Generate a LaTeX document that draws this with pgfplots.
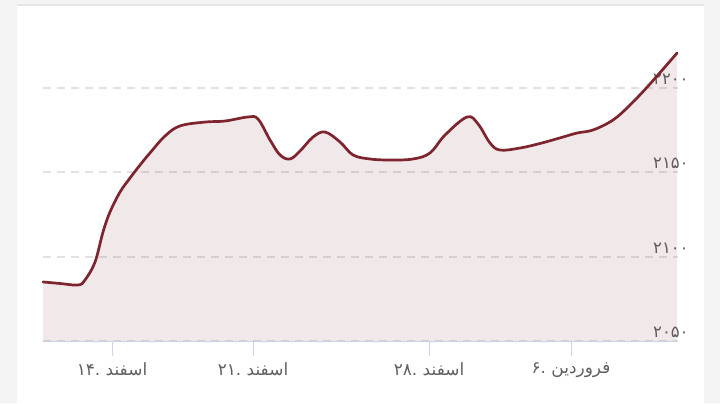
\documentclass[border=0pt]{standalone}
\usepackage{pgfplots}
\pgfplotsset{compat=1.18}
\usepackage{fontspec}
\setmainfont{DejaVu Sans}
\newfontfamily\fa[Script=Arabic]{DejaVu Sans}
\TeXXeTstate=1
\definecolor{lc}{RGB}{126,36,46}
\definecolor{gridc}{RGB}{226,226,226}
\definecolor{axc}{RGB}{204,214,235}
\definecolor{labc}{RGB}{96,96,96}
\definecolor{bandc}{RGB}{244,244,244}
\definecolor{topc}{RGB}{230,230,230}
\begin{document}
\begin{tikzpicture}[x=1bp,y=1bp]
\useasboundingbox (0,0) rectangle (720,403);
\fill[bandc] (0,0) rectangle (720,403);
\fill[white] (17,0) rectangle (704,396.5);
\fill[topc] (17,396.5) rectangle (704,398.5);
\begin{axis}[
  at={(43bp,62bp)}, anchor=origin,
  scale only axis, width=635bp, height=320.5bp,
  xmin=43, xmax=678, ymin=2050, ymax=2240,
  axis x line=bottom, axis y line*=right,
  x axis line style={draw=axc, line width=1bp, -},
  y axis line style={draw=none, -},
  xtick={112,253,429,571},
  xticklabels={%
    {\beginR اسفند \mbox{.}\mbox{۱۴}\endR},
    {\beginR اسفند \mbox{.}\mbox{۲۱}\endR},
    {\beginR اسفند \mbox{.}\mbox{۲۸}\endR},
    {\beginR فروردین \mbox{.}\mbox{۶}\endR}},
  x tick style={draw=axc, line width=1bp},
  tick align=outside, major tick length=15bp,
  xticklabel style={font=\fa\fontsize{17}{19}\selectfont, text=labc, yshift=-3bp},
  ytick={2050,2100,2150,2200},
  yticklabels={{۲۰۵۰},{۲۱۰۰},{۲۱۵۰},{۲۲۰۰}},
  y tick style={draw=none},
  yticklabel style={font=\fa\fontsize{16.5}{18}\selectfont, text=labc, anchor=south east, xshift=-1bp, yshift=0bp},
  ymajorgrids, major grid style={draw=gridc, line width=2bp, dash pattern=on 8bp off 6bp},
  clip=false,
]
\addplot[draw=none, fill=lc, fill opacity=0.1, smooth, tension=0.6] coordinates {
(43,2085.0)(60,2084.1)(78,2083.2)(85,2086.2)(95,2096.8)(103,2114.6)(110,2126.5)(120,2138.3)(130,2146.6)(140,2154.3)(150,2161.5)(165,2171.5)(180,2177.5)(205,2179.8)(225,2180.4)(248,2182.8)(258,2181.6)(270,2169.2)(280,2160.3)(290,2157.9)(300,2162.6)(313,2170.9)(325,2173.9)(340,2168.0)(353,2160.3)(370,2157.9)(390,2157.3)(413,2157.9)(430,2161.5)(445,2172.1)(467,2182.8)(478,2178.7)(490,2167.4)(500,2163.2)(520,2164.4)(540,2167.1)(560,2170.4)(577,2173.3)(593,2175.1)(613,2181.0)(630,2189.9)(650,2202.4)(677,2220.7)
} \closedcycle;
\addplot[draw=lc, line width=2.7bp, smooth, tension=0.6, line join=round, line cap=round] coordinates {
(43,2085.0)(60,2084.1)(78,2083.2)(85,2086.2)(95,2096.8)(103,2114.6)(110,2126.5)(120,2138.3)(130,2146.6)(140,2154.3)(150,2161.5)(165,2171.5)(180,2177.5)(205,2179.8)(225,2180.4)(248,2182.8)(258,2181.6)(270,2169.2)(280,2160.3)(290,2157.9)(300,2162.6)(313,2170.9)(325,2173.9)(340,2168.0)(353,2160.3)(370,2157.9)(390,2157.3)(413,2157.9)(430,2161.5)(445,2172.1)(467,2182.8)(478,2178.7)(490,2167.4)(500,2163.2)(520,2164.4)(540,2167.1)(560,2170.4)(577,2173.3)(593,2175.1)(613,2181.0)(630,2189.9)(650,2202.4)(677,2220.7)
};
\end{axis}
\end{tikzpicture}
\end{document}
